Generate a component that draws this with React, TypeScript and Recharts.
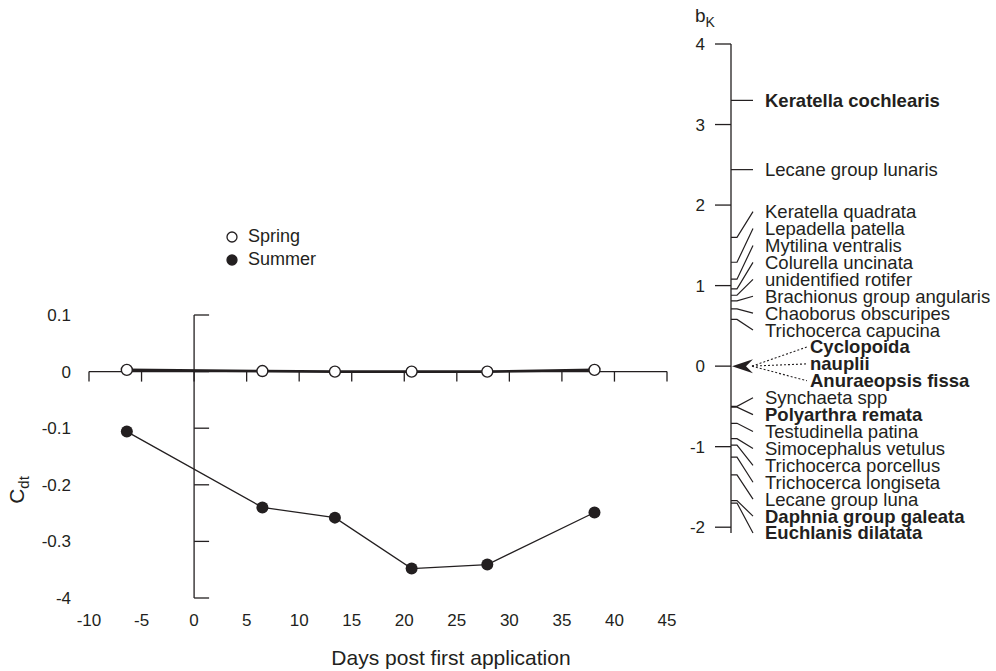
import React from "react";
import { ScatterChart, Scatter, XAxis, YAxis, Legend } from "recharts";

const INK = "#231f20";
const FONT = '"Liberation Sans", Arial, Helvetica, sans-serif';

// Principal response curve: sampling days and canonical coefficients per season
const days = [-6.4, 6.5, 13.4, 20.7, 27.9, 38.1];
const springCdt = [0.003, 0.001, 0, 0, 0, 0.003];
const summerCdt = [-0.106, -0.24, -0.258, -0.348, -0.341, -0.249];

const dayTicks = [-10, -5, 0, 5, 10, 15, 20, 25, 30, 35, 40, 45];
const cdtTicks = [0.1, 0, -0.1, -0.2, -0.3, -0.4];
const cdtTickLabels = ["0.1", "0", "-0.1", "-0.2", "-0.3", "-4"];

// Species weights (b_K), highest first
const taxa = [
  "Keratella cochlearis",
  "Lecane group lunaris",
  "Keratella quadrata",
  "Lepadella patella",
  "Mytilina ventralis",
  "Colurella uncinata",
  "unidentified rotifer",
  "Brachionus group angularis",
  "Chaoborus obscuripes",
  "Trichocerca capucina",
  "Cyclopoida",
  "nauplii",
  "Anuraeopsis fissa",
  "Synchaeta spp",
  "Polyarthra remata",
  "Testudinella patina",
  "Simocephalus vetulus",
  "Trichocerca porcellus",
  "Trichocerca longiseta",
  "Lecane group luna",
  "Daphnia group galeata",
  "Euchlanis dilatata",
];
const taxonWeights = [
  3.3, 2.44, 1.6, 1.29, 1.08, 0.96, 0.88, 0.81, 0.71, 0.58, 0, 0, 0, -0.5, -0.51, -0.71, -0.9, -0.98,
  -1.13, -1.35, -1.67, -1.7,
];
const boldTaxa = [
  "Keratella cochlearis",
  "Cyclopoida",
  "nauplii",
  "Anuraeopsis fissa",
  "Polyarthra remata",
  "Daphnia group galeata",
  "Euchlanis dilatata",
];
const bkTicks = [4, 3, 2, 1, 0, -1, -2];

// spread labels so neighbours keep at least `gap` apart (in b_K units),
// merging crowded runs and centring each run on its members' mean
function spreadLabels(weights: number[], gap: number): number[] {
  let groups = weights.map((w, i) => ({ members: [i], centre: w }));
  const span = (g: { members: number[] }) => (g.members.length - 1) * gap;
  let changed = true;
  while (changed) {
    changed = false;
    for (let i = 0; i + 1 < groups.length; i++) {
      const upper = groups[i];
      const lower = groups[i + 1];
      const upperBottom = upper.centre - span(upper) / 2;
      const lowerTop = lower.centre + span(lower) / 2;
      if (upperBottom - lowerTop < gap - 1e-9) {
        const members = [...upper.members, ...lower.members];
        const centre = members.reduce((s, k) => s + weights[k], 0) / members.length;
        groups.splice(i, 2, { members, centre });
        changed = true;
        break;
      }
    }
  }
  const out: number[] = new Array(weights.length);
  groups.forEach((g) =>
    g.members.forEach((k, j) => {
      out[k] = g.centre + ((g.members.length - 1) / 2 - j) * gap;
    })
  );
  return out;
}

const labelAt = spreadLabels(taxonWeights, 0.21);

const KNEE = 6;
const REACH = 22;
const TEXT_X = 34;
const POOL_FROM = 21;
const POOL_TO = 76;
const POOL_TEXT_X = 79;

const taxonRows = taxa.map((name, i) => ({
  name,
  weight: taxonWeights[i],
  lab: labelAt[i],
  bold: boldTaxa.includes(name),
  pooled: taxonWeights[i] === 0,
}));

const springData = days.map((x, i) => ({ x, y: springCdt[i] }));
const summerData = days.map((x, i) => ({ x, y: summerCdt[i] }));

const seasonStyle: Record<string, { fill: string }> = {
  Spring: { fill: "#ffffff" },
  Summer: { fill: INK },
};

const Blank = () => <g />;

const OpenDot = (p: any) => <circle cx={p.cx} cy={p.cy} r={5.5} fill="#fff" stroke={INK} strokeWidth={1.4} />;
const FilledDot = (p: any) => <circle cx={p.cx} cy={p.cy} r={6} fill={INK} />;

const DownTick = (p: any) => (
  <line x1={p.cx} y1={p.cy} x2={p.cx} y2={p.cy + 10} stroke={INK} strokeWidth={1.3} />
);
const RightTick = (p: any) => (
  <line x1={p.cx} y1={p.cy} x2={p.cx + 15} y2={p.cy} stroke={INK} strokeWidth={1.3} />
);

const ArrowHead = (p: any) => (
  <polygon
    points={`${p.cx + 1},${p.cy} ${p.cx + 22},${p.cy - 7} ${p.cx + 15},${p.cy} ${p.cx + 22},${p.cy + 7}`}
    fill={INK}
  />
);

const TaxonText = (p: any) => (
  <text
    x={p.cx}
    y={p.cy}
    dy="0.35em"
    fontSize={18.5}
    fontFamily={FONT}
    fontWeight={p.payload.bold ? "bold" : "normal"}
    fill={INK}
  >
    {p.payload.name}
  </text>
);

const DaysTitle = (p: any) => {
  const vb = p.viewBox || { x: 89, y: 598 };
  return (
    <text x={vb.x + 362} y={vb.y + 60} dy="0.35em" textAnchor="middle" fontSize={21} fontFamily={FONT} fill={INK}>
      Days post first application
    </text>
  );
};

const CdtTitle = (p: any) => {
  const vb = p.viewBox || { x: 0, y: 315 };
  const x = vb.x + 17;
  const y = vb.y + 175;
  return (
    <text
      x={x}
      y={y}
      dy="0.35em"
      textAnchor="middle"
      transform={`rotate(-90 ${x} ${y})`}
      fontSize={21}
      fontFamily={FONT}
      fill={INK}
    >
      C
      <tspan dy="5" fontSize={15}>
        dt
      </tspan>
    </text>
  );
};

const BkTitle = (p: any) => {
  const vb = p.viewBox || { x: 640, y: 44 };
  return (
    <text x={vb.x + 55} y={vb.y - 22} fontSize={19} fontFamily={FONT} fill={INK}>
      b
      <tspan dy="5" fontSize={14}>
        K
      </tspan>
    </text>
  );
};

const SeasonLegend = (props: any) => {
  const entries = (props.payload || []).filter((e: any) => seasonStyle[e.value]);
  return (
    <div style={{ fontFamily: FONT, fontSize: 18, color: INK }}>
      {entries.map((e: any) => (
        <div key={e.value} style={{ display: "flex", alignItems: "center", height: 23 }}>
          <svg width={12} height={12} style={{ marginRight: 10 }}>
            <circle cx={6} cy={6} r={5} fill={seasonStyle[e.value].fill} stroke={INK} strokeWidth={1.3} />
          </svg>
          <span>{e.value}</span>
        </div>
      ))}
    </div>
  );
};

const tickFont = { fontSize: 17, fill: INK, fontFamily: FONT };

function ResponseCurves() {
  return (
    <ScatterChart width={680} height={671} margin={{ top: 315, right: 13, bottom: 43, left: 0 }}>
      <XAxis
        type="number"
        dataKey="x"
        domain={[-10, 45]}
        ticks={dayTicks}
        interval={0}
        axisLine={false}
        tickLine={false}
        tickMargin={10}
        tick={tickFont}
        label={<DaysTitle />}
      />
      <YAxis
        type="number"
        dataKey="y"
        domain={[-0.4, 0.1]}
        ticks={cdtTicks}
        interval={0}
        width={89}
        axisLine={false}
        tickLine={false}
        tickMargin={12}
        tick={tickFont}
        tickFormatter={(v: number) => cdtTickLabels[cdtTicks.indexOf(v)] ?? String(v)}
        label={<CdtTitle />}
      />
      <Legend
        layout="vertical"
        align="center"
        verticalAlign="middle"
        content={SeasonLegend}
        wrapperStyle={{ left: 226, top: 225, width: 120 }}
      />
      {/* axes crossing at the origin */}
      <Scatter
        data={[{ x: -10, y: 0 }, { x: 45, y: 0 }]}
        line={{ stroke: INK, strokeWidth: 1.3 }}
        shape={Blank}
        legendType="none"
        isAnimationActive={false}
      />
      <Scatter
        data={[{ x: 0, y: -0.4 }, { x: 0, y: 0.1 }]}
        line={{ stroke: INK, strokeWidth: 1.3 }}
        shape={Blank}
        legendType="none"
        isAnimationActive={false}
      />
      <Scatter
        data={dayTicks.map((x) => ({ x, y: 0 }))}
        shape={DownTick}
        legendType="none"
        isAnimationActive={false}
      />
      <Scatter
        data={cdtTicks.map((y) => ({ x: 0, y }))}
        shape={RightTick}
        legendType="none"
        isAnimationActive={false}
      />
      <Scatter
        name="Spring"
        data={springData}
        line={{ stroke: INK, strokeWidth: 2.6 }}
        shape={OpenDot}
        legendType="circle"
        isAnimationActive={false}
      />
      <Scatter
        name="Summer"
        data={summerData}
        line={{ stroke: INK, strokeWidth: 1.3 }}
        shape={FilledDot}
        legendType="circle"
        isAnimationActive={false}
      />
    </ScatterChart>
  );
}

function SpeciesWeights() {
  return (
    <ScatterChart width={356} height={671} margin={{ top: 44, right: 0, bottom: 138, left: 0 }}>
      <XAxis type="number" dataKey="x" domain={[0, 265]} hide />
      <YAxis
        type="number"
        dataKey="y"
        domain={[-2, 4]}
        ticks={bkTicks}
        interval={0}
        width={91}
        axisLine={{ stroke: INK, strokeWidth: 1.3 }}
        tickLine={{ stroke: INK, strokeWidth: 1.3 }}
        tickSize={16}
        tickMargin={10}
        tick={tickFont}
        label={<BkTitle />}
      />
      {taxonRows
        .filter((r) => !r.pooled)
        .map((r) => (
          <Scatter
            key={r.name}
            data={[
              { x: 0, y: r.weight },
              { x: KNEE, y: r.weight },
              { x: REACH, y: r.lab },
            ]}
            line={{ stroke: INK, strokeWidth: 1.2 }}
            shape={Blank}
            isAnimationActive={false}
          />
        ))}
      {taxonRows
        .filter((r) => r.pooled)
        .map((r) => (
          <Scatter
            key={r.name}
            data={[
              { x: POOL_FROM, y: r.weight },
              { x: POOL_TO, y: r.lab },
            ]}
            line={{ stroke: INK, strokeWidth: 1.1, strokeDasharray: "2 2" }}
            shape={Blank}
            isAnimationActive={false}
          />
        ))}
      <Scatter data={[{ x: 0, y: 0 }]} shape={ArrowHead} isAnimationActive={false} />
      <Scatter
        data={taxonRows.map((r) => ({ ...r, x: r.pooled ? POOL_TEXT_X : TEXT_X, y: r.lab }))}
        shape={TaxonText}
        isAnimationActive={false}
      />
    </ScatterChart>
  );
}

export default function App() {
  return (
    <div
      style={{
        position: "absolute",
        left: 0,
        top: 0,
        width: 996,
        height: 671,
        background: "#fff",
        fontFamily: FONT,
        overflow: "hidden",
      }}
    >
      <div style={{ position: "absolute", left: 0, top: 0 }}>
        <ResponseCurves />
      </div>
      <div style={{ position: "absolute", left: 640, top: 0 }}>
        <SpeciesWeights />
      </div>
    </div>
  );
}
